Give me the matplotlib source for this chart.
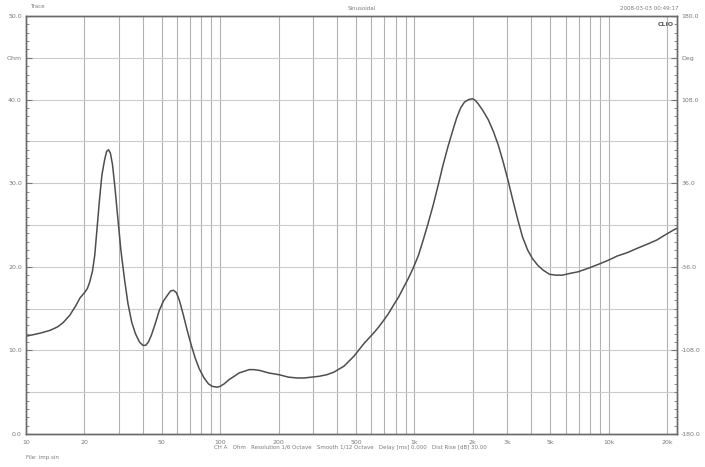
import numpy as np
import matplotlib
matplotlib.use("Agg")
import matplotlib.pyplot as plt
from matplotlib.ticker import FixedLocator, NullFormatter

# impedance curve (Hz, Ohm)
freq = [10, 11, 12, 13.3, 14.5, 15.5, 16.8, 18, 19, 20, 20.7, 21.3, 22, 22.6,
        23.2, 23.9, 24.6, 25.4, 26, 26.6, 27.2, 27.9, 28.7, 29.6, 30.8, 32.2,
        33.5, 35, 36.6, 38.4, 40, 41.3, 42.7, 44.2, 46.3, 48.6, 51, 53.5, 55.5,
        57.4, 59.5, 61.6, 64.5, 67.6, 71, 74.3, 78, 82.6, 87, 90.9, 96.4, 100,
        104.8, 111, 118, 125, 133, 141, 149, 160, 178, 200, 225, 250, 270, 295,
        323, 355, 385, 433, 488, 549, 590, 618, 655, 695, 735, 780, 830, 878,
        930, 988, 1050, 1110, 1180, 1250, 1330, 1405, 1490, 1580, 1650, 1730,
        1810, 1900, 1990, 2060, 2130, 2250, 2400, 2550, 2700, 2860, 3030, 3210,
        3410, 3600, 3830, 4050, 4310, 4600, 4970, 5350, 5780, 6300, 6960, 7800,
        8870, 10000, 11100, 12500, 14000, 15800, 17700, 19500, 21600, 22500]
ohm = [11.7, 11.9, 12.1, 12.4, 12.8, 13.3, 14.2, 15.3, 16.3, 16.9, 17.4, 18.2,
       19.5, 21.4, 24.5, 28.0, 31.0, 32.8, 33.8, 34.0, 33.6, 32.2, 29.5, 26.2,
       22.0, 18.4, 15.6, 13.4, 12.0, 11.0, 10.6, 10.6, 11.0, 11.8, 13.2, 14.8,
       15.9, 16.6, 17.1, 17.2, 16.9, 16.0, 14.3, 12.4, 10.6, 9.1, 7.8, 6.7,
       6.0, 5.7, 5.6, 5.7, 6.0, 6.5, 6.9, 7.3, 7.5, 7.7, 7.7, 7.6, 7.3, 7.1,
       6.8, 6.7, 6.7, 6.8, 6.9, 7.1, 7.4, 8.1, 9.3, 10.8, 11.6, 12.1, 12.8,
       13.6, 14.4, 15.4, 16.4, 17.5, 18.6, 19.9, 21.4, 23.2, 25.3, 27.4, 29.9,
       32.2, 34.4, 36.4, 37.8, 39.0, 39.7, 40.0, 40.1, 39.9, 39.5, 38.7, 37.6,
       36.2, 34.6, 32.6, 30.4, 28.0, 25.6, 23.6, 22.0, 21.0, 20.2, 19.6, 19.1,
       19.0, 19.0, 19.2, 19.4, 19.8, 20.3, 20.8, 21.3, 21.7, 22.2, 22.7, 23.2,
       23.8, 24.4, 24.6]

x_ticks = [10, 20, 50, 100, 200, 500, 1000, 2000, 3000, 5000, 10000, 20000]
x_labels = ["10", "20", "50", "100", "200", "500", "1k", "2k", "3k", "5k", "10k", "20k"]
y_ticks = [0, 10, 20, 30, 40, 45, 50]
y_labels = ["0.0", "10.0", "20.0", "30.0", "40.0", "Ohm", "50.0"]
deg_ticks = [-180, -108, -36, 36, 108, 144, 180]
deg_labels = ["-180.0", "-108.0", "-36.0", "36.0", "108.0", "Deg", "180.0"]

txt = "#7a7a7a"

fig = plt.figure(figsize=(7.05, 4.67), dpi=100)
ax = fig.add_axes([26 / 705, 1 - 434 / 467, 651 / 705, 418 / 467])

ax.set_xscale("log")
ax.set_xlim(10, 22500)
ax.set_ylim(0, 50)

grid_x = [v * 10 ** d for d in range(1, 5) for v in range(1, 10)]
grid_x = [g for g in grid_x if 10 < g <= 20000]
for g in grid_x:
    ax.axvline(g, color="#b2b2b2", lw=0.8, zorder=1)
for h in range(5, 50, 5):
    ax.axhline(h, color="#cbcbcb", lw=0.8, zorder=1)

ax.plot(freq, ohm, color="#4e4e4e", lw=1.1, zorder=3)

ax.xaxis.set_major_locator(FixedLocator(x_ticks))
ax.set_xticklabels(x_labels)
ax.xaxis.set_minor_formatter(NullFormatter())
ax.tick_params(axis="x", which="both", length=0, labelsize=4.5, colors=txt, pad=4)

ax.set_yticks(y_ticks)
ax.set_yticklabels(y_labels)
ax.yaxis.set_minor_locator(FixedLocator(np.arange(0, 51, 1)))
ax.tick_params(axis="y", which="major", direction="in", length=4, labelsize=4.5,
               labelcolor=txt, color="#777777", pad=3)
ax.tick_params(axis="y", which="minor", direction="in", length=2.5, color="#777777")

ax2 = ax.twinx()
ax2.set_ylim(-180, 180)
ax2.set_yticks(deg_ticks)
ax2.set_yticklabels(deg_labels)
ax2.yaxis.set_minor_locator(FixedLocator(np.arange(-180, 181, 7.2)))
ax2.tick_params(axis="y", which="major", direction="in", length=4, labelsize=4.5,
                labelcolor=txt, color="#777777", pad=3)
ax2.tick_params(axis="y", which="minor", direction="in", length=2.5, color="#777777")

for a in (ax, ax2):
    for s in a.spines.values():
        s.set_color("#6a6a6a")
        s.set_linewidth(1.0)

fig.text(30 / 705, 1 - 7 / 467, "Trace", fontsize=4, color=txt, va="center")
fig.text(362 / 705, 1 - 8 / 467, "Sinusoidal", fontsize=4, color=txt, ha="center", va="center")
fig.text(678 / 705, 1 - 8 / 467, "2008-03-03 00:49:17", fontsize=4, color=txt,
         ha="right", va="center")
ax.text(0.995, 0.985, "CLIO", transform=ax.transAxes, fontsize=4.5, color="#555555",
        ha="right", va="top", fontweight="bold")
fig.text(350 / 705, 1 - 447 / 467,
         "CH A   Ohm   Resolution 1/6 Octave   Smooth 1/12 Octave   Delay [ms] 0.000   Dist Rise [dB] 30.00",
         fontsize=4, color=txt, ha="center", va="center")
fig.text(26 / 705, 1 - 457 / 467, "File: imp.sin", fontsize=4, color=txt, va="center")

fig.savefig("out.png", dpi=100, facecolor="white")
